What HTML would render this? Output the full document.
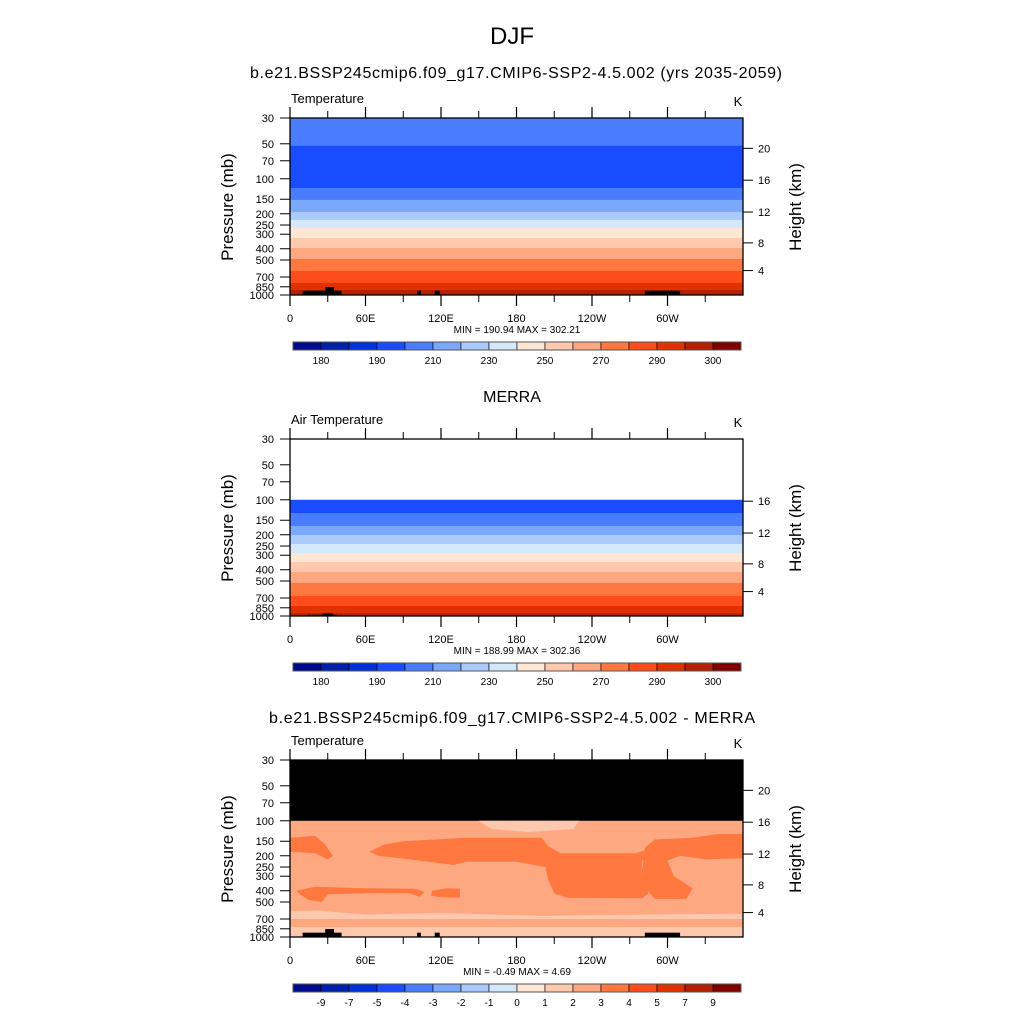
<!DOCTYPE html>
<html><head><meta charset="utf-8"><style>
html,body{margin:0;padding:0;background:#fff;}
svg{display:block;font-family:"Liberation Sans",sans-serif;}
</style></head><body>
<svg id="fig" width="1024" height="1024" viewBox="0 0 1024 1024" xmlns="http://www.w3.org/2000/svg">
<text x="512" y="44" font-size="24" text-anchor="middle">DJF</text>
</svg>
<script>
// ---------- data ----------
const palette = ['#000a8c','#0020aa','#0032dc','#1a4cff','#4a7cff','#7aa8fa','#aacafc','#d4e8fc','#fee6d4','#fec8ae','#fea882','#fe7840','#fe4c1c','#e03200','#b42000','#800000'];
const pressureTicks = [30,50,70,100,150,200,250,300,400,500,700,850,1000];
const heightTicks = [20,16,12,8,4];
const lonTicks = [0,60,120,180,240,300];
const lonLabels = ['0','60E','120E','180','120W','60W'];
const lonMinorTicks = [30,90,150,210,270,330];
const tempBarLabels = ['180','','190','','210','','230','','250','','270','','290','','300'];
const diffBarLabels = ['-9','-7','-5','-4','-3','-2','-1','0','1','2','3','4','5','7','9'];
// band boundaries (pressure, mb) and colour index of each band
const modelBandP = [30,52,120,152,193,226,265,324,394,490,621,788,907,1000];
const modelBandC = [4,3,4,5,6,7,8,9,10,11,12,13,14];
const merraBandP = [100,130,168,201,240,288,343,418,519,672,821,950,1000];
const merraBandC = [3,4,5,6,7,8,9,10,11,12,13,14];
const diffBandP = [30,100,1000];
const diffBandC = [-1,10];
// difference blobs: [colour index, [lon,p]...]
const diffBlobs = [
 [9, [[0,600],[20,590],[60,640],[120,620],[200,660],[280,640],[360,630],[360,700],[0,700]]],
 [9, [[0,820],[360,820],[360,1000],[0,1000]]],
 [9, [[150,100],[230,100],[225,118],[190,125],[160,118]]],
 [11,[[0,140],[20,135],[28,160],[34,200],[30,215],[20,190],[0,185]]],
 [11,[[63,185],[75,160],[90,150],[140,140],[200,140],[205,165],[215,190],[275,190],[283,178],[285,200],[280,220],[279,300],[285,420],[280,465],[220,460],[210,420],[205,320],[203,250],[180,225],[140,225],[130,240],[95,215],[70,200]]],
 [11,[[282,170],[290,145],[320,140],[340,130],[360,130],[360,210],[330,215],[310,200],[300,220],[305,300],[320,380],[315,470],[290,470],[284,400],[279,300],[281,220]]],
 [11,[[5,400],[20,370],[60,380],[100,385],[107,410],[103,450],[95,420],[60,420],[30,430],[25,500],[15,480],[8,430]]],
 [11,[[113,400],[125,380],[135,385],[135,460],[120,455],[112,440]]],
 [7, [[20,1000],[23,930],[30,915],[36,1000]]],
 [12,[[284,1000],[290,945],[300,940],[305,1000]]]
];
// topography (black) boxes: [lon0, lon1, pTop]
const topoBoxes = [[10,41,918],[28,35,853],[101,104,918],[115,119,918],[282,310,918]];
const merraTopo = [[14,38,975],[26,34,950]];

// ---------- drawing ----------
const NS='http://www.w3.org/2000/svg';
const svg=document.getElementById('fig');
const X0=290,X1=743,PH=177;
function el(t,a,parent){const e=document.createElementNS(NS,t);for(const k in a)e.setAttribute(k,a[k]);(parent||svg).appendChild(e);return e;}
function xs(lon){return X0+(lon/360)*(X1-X0);}
function ys(top,p){return top+PH*Math.log(p/30)/Math.log(1000/30);}
function zToP(z){return z<11?1013.25*Math.pow(1-z/44.33,5.256):226.3*Math.exp(-(z-11)/6.34);}
function txt(x,y,s,size,anchor,name,extra){const t=el('text',Object.assign({x:x,y:y,'font-size':size,'text-anchor':anchor||'start'},extra||{}));t.textContent=s;


return t;}

function panel(top,title,titleLen,left,bandsP,bandsC,blobs,topo,minmax,barLabels,pid){
  const g=el('g',{});
  
  
  if(title){const ex=titleLen?{textLength:titleLen}:{};txt(512,top-37,title,16,'middle',pid+'-title',ex);}
  txt(291,top-15,left,13,'start',pid+'-left-string');
  txt(738,top-12,'K',13,'middle',pid+'-units');
  const plot=el('g',{},g);
  
  
  el('rect',{x:X0,y:top,width:X1-X0,height:PH,fill:'#fff'},plot);
  for(let i=0;i<bandsC.length;i++){
    const y0=ys(top,bandsP[i]),y1=ys(top,bandsP[i+1]);
    const r=el('rect',{x:X0,y:y0,width:X1-X0,height:y1-y0+0.5,fill:bandsC[i]<0?'#000':palette[bandsC[i]]},plot);
    
    
  }
  (blobs||[]).forEach(b=>{
    const pts=b[1].map(q=>xs(q[0]).toFixed(1)+','+ys(top,q[1]).toFixed(1)).join(' ');
    const pg=el('polygon',{points:pts,fill:palette[b[0]]},plot);
    
    
  });
  topo.forEach(t=>{
    const y0=ys(top,t[2]);
    const r=el('rect',{x:xs(t[0]),y:y0,width:xs(t[1])-xs(t[0]),height:top+PH-y0,fill:'#000'},plot);
    
    
  });
  const fr=el('rect',{x:X0,y:top,width:X1-X0,height:PH,fill:'none',stroke:'#000','stroke-width':1.3},g);
  
  
  pressureTicks.forEach(p=>{const y=ys(top,p);
    el('line',{x1:X0-10,x2:X0,y1:y,y2:y,stroke:'#000','stroke-width':1},g);
    txt(X0-16,y+4,String(p),11,'end','pressure-tick-label');});
  heightTicks.forEach(z=>{const p=zToP(z);if(p<30)return;const y=ys(top,p);
    if(pid==='merra'&&p<100)return;
    el('line',{x1:X1,x2:X1+10,y1:y,y2:y,stroke:'#000','stroke-width':1},g);
    txt(X1+15,y+4,String(z),11,'start','height-tick-label');});
  lonTicks.forEach((l,i)=>{const x=xs(l);
    el('line',{x1:x,x2:x,y1:top-11,y2:top,stroke:'#000','stroke-width':1.2},g);
    el('line',{x1:x,x2:x,y1:top+PH,y2:top+PH+11,stroke:'#000','stroke-width':1.2},g);
    txt(x,top+PH+27,lonLabels[i],11,'middle','longitude-tick-label');});
  lonMinorTicks.forEach(l=>{const x=xs(l);
    el('line',{x1:x,x2:x,y1:top-7,y2:top,stroke:'#000','stroke-width':1},g);
    el('line',{x1:x,x2:x,y1:top+PH,y2:top+PH+7,stroke:'#000','stroke-width':1},g);});
  txt(0,0,'Pressure (mb)',17,'middle','y-axis-title',{transform:'translate(233,'+(top+89)+') rotate(-90)'});
  txt(0,0,'Height (km)',17,'middle','right-axis-title',{transform:'translate(801,'+(top+89)+') rotate(-90)'});
  txt(517,top+PH+38,minmax,10,'middle',pid+'-min-max',{'xml:space':'preserve'});
  const cb=el('g',{},g);
  
  
  const cx0=293,cx1=741,cy=top+224,ch=8,w=(cx1-cx0)/16;
  palette.forEach((c,i)=>{el('rect',{x:cx0+i*w,y:cy,width:w,height:ch,fill:c,stroke:'#000','stroke-width':0.6},cb);});
  el('rect',{x:cx0,y:cy,width:cx1-cx0,height:ch,fill:'none',stroke:'#555','stroke-width':1},cb);
  barLabels.forEach((s,i)=>{if(!s)return;txt(cx0+(i+1)*w,cy+22,s,10,'middle','colorbar-label');});
}
txt(516,78,'b.e21.BSSP245cmip6.f09_g17.CMIP6-SSP2-4.5.002 (yrs 2035-2059)',16,'middle','model-subtitle',{textLength:532});
panel(118,'',0,'Temperature',modelBandP,modelBandC,null,topoBoxes,'MIN = 190.94  MAX = 302.21',tempBarLabels,'model');
panel(439,'MERRA',0,'Air Temperature',merraBandP,merraBandC,null,merraTopo,'MIN = 188.99  MAX = 302.36',tempBarLabels,'merra');
panel(760,'b.e21.BSSP245cmip6.f09_g17.CMIP6-SSP2-4.5.002 - MERRA',486,'Temperature',diffBandP,diffBandC,diffBlobs,topoBoxes,'MIN =  -0.49  MAX =   4.69',diffBarLabels,'diff');
</script>
</body></html>
